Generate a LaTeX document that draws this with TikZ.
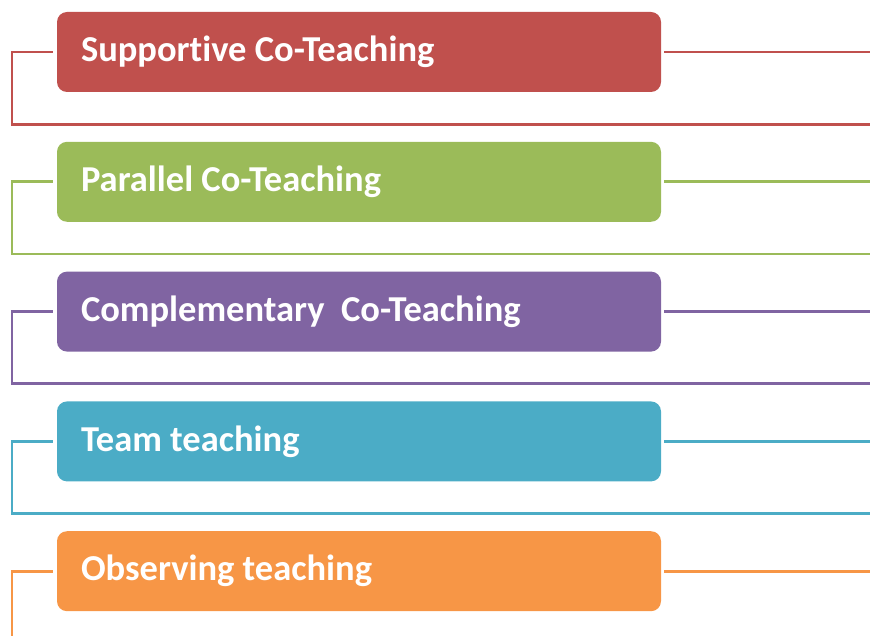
\documentclass[tikz,border=0pt]{standalone}
\usepackage{fontspec}
\setmainfont{Carlito}[Ligatures=NoCommon]
\usetikzlibrary{positioning}

\definecolor{suprred}{HTML}{C0504D}
\definecolor{paragreen}{HTML}{9BBB59}
\definecolor{complpurple}{HTML}{8064A2}
\definecolor{teamblue}{HTML}{4BACC6}
\definecolor{obsorange}{HTML}{F79646}

\begin{document}
\begin{tikzpicture}[
    x=1pt, y=1pt,
    node distance=49.4pt,
    kind/.style={
        rounded corners=10pt,
        fill=#1,
        text=white,
        font=\fontsize{36.5}{42}\selectfont\bfseries,
        minimum width=604pt,
        minimum height=80pt,
        inner xsep=24pt,
        text width=556pt,
        align=left,
        % keep the font's own word spacing
        execute at begin node={\spaceskip=0pt\xspaceskip=0pt},
    },
    link/.style={draw=#1, line width=2.8pt},
]
\useasboundingbox (0,0) rectangle (870,-636);

\node[kind=suprred] (supportive) at (359,-52) {Supportive Co-Teaching};
\node[kind=paragreen, below=of supportive] (parallel) {Parallel Co-Teaching};
\node[kind=complpurple, below=of parallel] (complementary) {Complementary\ \ Co-Teaching};
\node[kind=teamblue, below=of complementary] (team) {Team teaching};
\node[kind=obsorange, below=of team] (observing) {Observing teaching};

% rail on the left, page edge on the right
\coordinate (rail) at (12,0);
\coordinate (edge) at (880,0);

\foreach \kname/\col in {supportive/suprred, parallel/paragreen,
        complementary/complpurple, team/teamblue} {
    \coordinate (\kname-low) at ([yshift=-32pt]\kname.south);
    \draw[link=\col] ([xshift=3pt]\kname.east) -- (edge |- \kname.east);
    \draw[link=\col] ([xshift=-4pt]\kname.west) -| (rail |- \kname-low) -- (edge |- \kname-low);
}

% last one just runs off the bottom
\coordinate (floor) at (0,-650);
\draw[link=obsorange] ([xshift=3pt]observing.east) -- (edge |- observing.east);
\draw[link=obsorange] ([xshift=-4pt]observing.west) -| (rail |- floor);

\end{tikzpicture}
\end{document}
